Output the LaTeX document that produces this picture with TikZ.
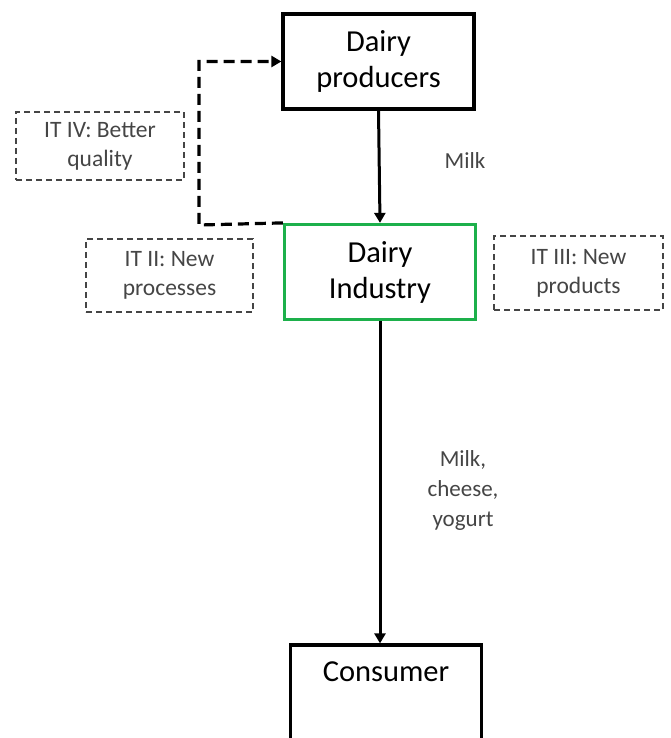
\documentclass[tikz,border=0pt]{standalone}
\usepackage{fontspec}
\setmainfont{Carlito}
\usetikzlibrary{arrows.meta,calc}
\definecolor{boxgreen}{HTML}{1DB04B}
\definecolor{notegray}{HTML}{454545}
\tikzset{
  x=1pt, y=-1pt,
  mainbox/.style={draw=black, line width=3.2pt, minimum width=191pt, minimum height=95pt,
    align=center, font=\fontsize{30.5}{36}\selectfont, inner sep=0pt},
  notebox/.style={draw=notegray, dashed, dash pattern=on 6pt off 4pt, line width=1.8pt,
    align=center, text=notegray, font=\fontsize{23.5}{29}\selectfont, inner sep=0pt},
  flowlabel/.style={text=notegray, align=center, font=\fontsize{23}{30}\selectfont},
  flow/.style={line width=3pt, -{Triangle[length=10pt,width=11pt]}},
  feedback/.style={line width=3.2pt, dash pattern=on 11pt off 6pt, -{Triangle[length=10pt,width=11pt]}}
}
\begin{document}
\begin{tikzpicture}
\useasboundingbox (0,0) rectangle (670,738);
\clip (0,0) rectangle (670,738);

% main chain
\node[mainbox] (prod) at (378.5,61.5) {Dairy\\producers};
\node[mainbox, draw=boxgreen] (ind) at (380,272) {Dairy\\Industry};
\node[mainbox, minimum height=140pt] (cons) at (386,715) {};
\node[font=\fontsize{30.5}{36}\selectfont] (constext) at (386,672) {Consumer};

% innovation notes
\node[notebox, minimum width=168pt, minimum height=68pt] (it4) at (100,146) {IT IV: Better\\quality};
\node[notebox, minimum width=167pt, minimum height=73pt] (it2) at (169.5,275.5) {IT II: New\\processes};
\node[notebox, minimum width=169pt, minimum height=74pt] (it3) at (578.5,273) {IT III: New\\products};

% flows
\draw[flow] (prod.south) -- (ind.north);
\draw[flow] (ind.south) -- (ind.south |- cons.north);
\node[flowlabel] (milk) at (465,161) {Milk};
\node[flowlabel] (products) at (463,490) {Milk,\\cheese,\\yogurt};

% feedback loop
\coordinate (fbcorner) at (199,225);
\draw[feedback] (ind.north west) -- (fbcorner) |- (prod.west);
\end{tikzpicture}
\end{document}
